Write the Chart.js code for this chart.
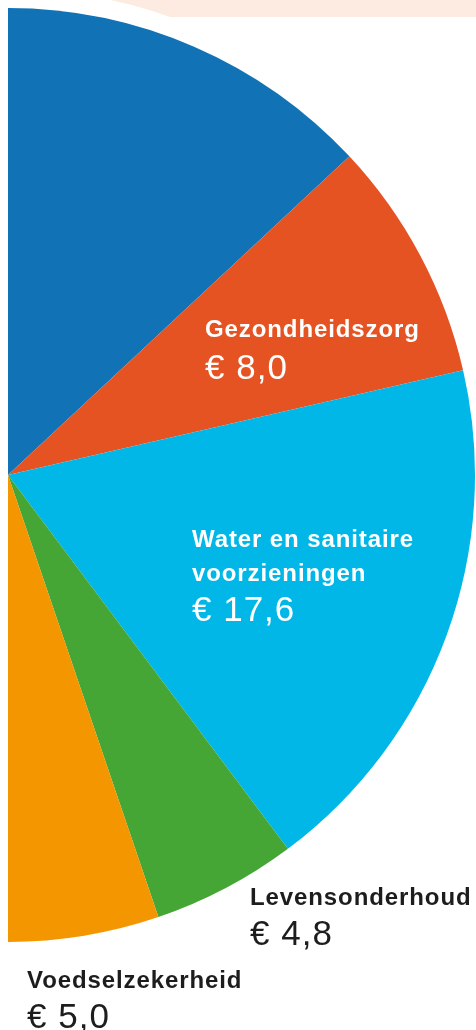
<!DOCTYPE html>
<html>
<head>
<meta charset="utf-8">
<script src="https://cdn.jsdelivr.net/npm/chart.js@4/dist/chart.umd.min.js"></script>
<style>
  html, body { margin: 0; padding: 0; background: #fff; }
  #wrap { position: relative; width: 476px; height: 1030px; overflow: hidden; }
  #band { position: absolute; left: 0; top: 0; width: 476px; height: 17px; background: #fdebe1; }
  #myChart { position: absolute; left: 0; top: 0; }
</style>
</head>
<body>
<div id="wrap">
  <div id="band"></div>
  <canvas id="myChart" width="476" height="1030"></canvas>
</div>
<script>
// data, clockwise from the top
const categories = ['', 'Gezondheidszorg', 'Water en sanitaire voorzieningen', 'Levensonderhoud', 'Voedselzekerheid']
const values = [12.5, 8.0, 17.6, 4.8, 5.0]
const valueLabels = ['', '€ 8,0', '€ 17,6', '€ 4,8', '€ 5,0']

const colors = ['#1172b5', '#e65322', '#00b7e7', '#45a636', '#f39600']

// where the label text goes (first baseline), and how the name wraps
const labelLayout = [
  null,
  { x: 205, y: 337, lines: ['Gezondheidszorg'], color: '#fff', gap: 42 },
  { x: 192, y: 547, lines: ['Water en sanitaire', 'voorzieningen'], color: '#fff', gap: 40 },
  { x: 250, y: 905, lines: ['Levensonderhoud'], color: '#1d1d1b', gap: 40 },
  { x: 27, y: 988, lines: ['Voedselzekerheid'], color: '#1d1d1b', gap: 40 }
]

const whiteRing = {
  id: 'whiteRing',
  beforeDatasetsDraw(chart) {
    const arc = chart.getDatasetMeta(0).data[0]
    const ctx = chart.ctx
    ctx.save()
    ctx.fillStyle = '#fff'
    ctx.beginPath()
    ctx.arc(arc.x, arc.y, arc.outerRadius + 19, 0, Math.PI * 2)
    ctx.fill()
    ctx.restore()
  }
}

const sliceLabels = {
  id: 'sliceLabels',
  afterDraw(chart) {
    const ctx = chart.ctx
    ctx.save()
    ctx.textBaseline = 'alphabetic'
    ctx.textAlign = 'left'
    labelLayout.forEach((l, i) => {
      if (!l) return
      ctx.fillStyle = l.color
      ctx.font = 'bold 24px "Liberation Sans", Arial, sans-serif'
      ctx.letterSpacing = '0.9px'
      let y = l.y
      l.lines.forEach((line, k) => {
        if (k > 0) y += 34
        ctx.fillText(line, l.x, y)
      })
      ctx.font = '35px "Liberation Sans", Arial, sans-serif'
      ctx.letterSpacing = '1px'
      ctx.fillText(valueLabels[i], l.x, y + l.gap)
    })
    ctx.restore()
  }
}

new Chart(document.getElementById('myChart'), {
  type: 'pie',
  data: {
    labels: categories,
    datasets: [{
      data: values,
      backgroundColor: colors,
      borderWidth: 0
    }]
  },
  options: {
    responsive: false,
    animation: false,
    rotation: 0,
    circumference: 180,
    layout: { padding: { left: 8, top: 8, right: 1, bottom: 88 } },
    plugins: {
      legend: { display: false },
      tooltip: { enabled: false }
    }
  },
  plugins: [whiteRing, sliceLabels]
})
</script>
</body>
</html>
